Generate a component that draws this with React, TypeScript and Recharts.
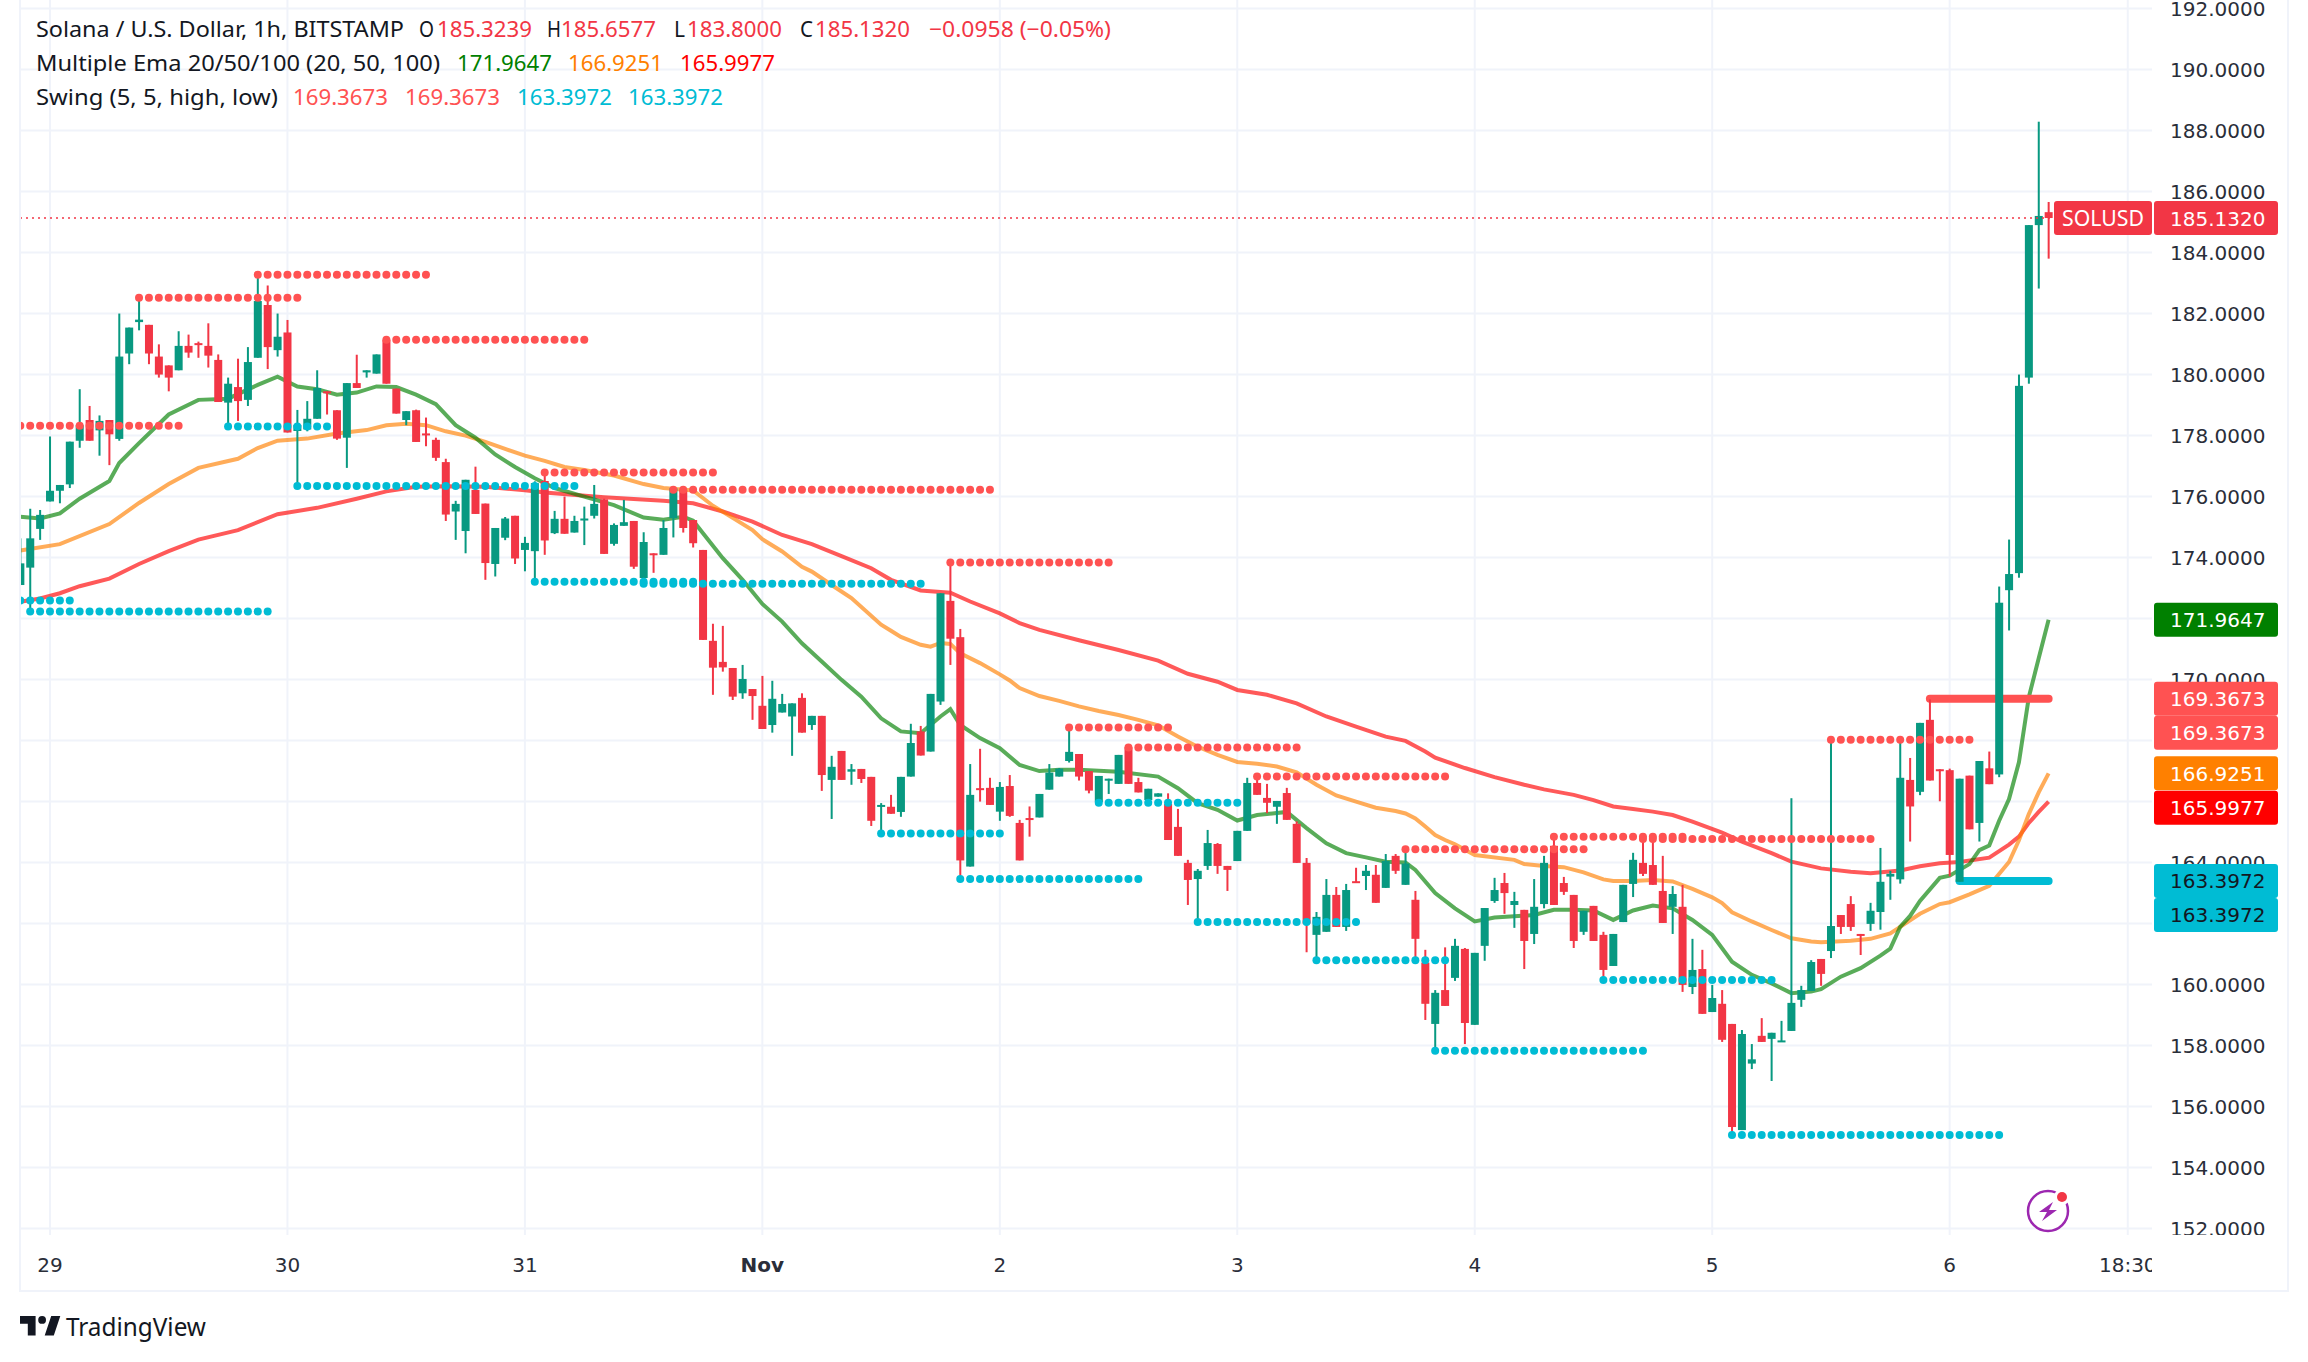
import { Bar, CartesianGrid, ComposedChart, Line, ReferenceLine, XAxis, YAxis } from "recharts";

const WIDTH = 2308;
const HEIGHT = 1362;
const PANE_BOTTOM = 1235;
const PANE_RIGHT = 2152;
const FIRST_BAR = -3;

// hourly bars, the first one is the half hidden candle on the left edge
const opens = [
  173.1, 173.67, 174.94, 175.84, 176.19, 176.4, 177.83, 178.51, 178.17, 178.51,
  177.89, 180.69, 181.72, 181.63, 180.59, 180.3, 180.14, 180.94, 181.03, 180.94,
  180.48, 179.08, 179.59, 179.17, 180.55, 182.28, 180.8, 181.38, 178.15, 178.2,
  178.55, 179.45, 178.83, 177.93, 179.72, 180.07, 180.03, 181.14, 179.54, 178.51,
  178.83, 178.07, 177.86, 177.13, 175.51, 174.87, 176.22, 175.77, 173.79, 174.65,
  175.37, 174.25, 174.21, 176.51, 174.8, 175.27, 174.82, 175.26, 175.37, 175.91,
  174.45, 175.04, 175.2, 173.33, 174.14, 174.09, 175.29, 176.22, 175.23, 174.25,
  171.27, 170.58, 170.38, 169.55, 169.69, 169.14, 168.51, 168.92, 168.79, 169.4,
  168.51, 168.81, 166.71, 167.66, 166.98, 167.07, 166.81, 165.83, 165.83, 165.66,
  166.82, 168.3, 167.64, 169.28, 172.58, 171.39, 163.87, 166.44, 166.45, 165.67,
  166.51, 165.3, 165.46, 165.48, 166.39, 166.82, 167.33, 167.56, 167.0, 165.98,
  166.72, 166.58, 167.78, 166.64, 166.05, 166.16, 165.92, 165.17, 163.99, 163.46,
  163.89, 164.61, 163.89, 164.05, 165.04, 166.61, 166.12, 165.83, 166.28, 165.27,
  163.99, 161.63, 161.73, 162.94, 161.89, 163.39, 163.56, 163.6, 163.17, 164.22,
  163.27, 162.78, 160.72, 158.71, 159.82, 160.22, 161.17, 158.68, 161.27, 162.74,
  163.33, 162.61, 162.45, 161.66, 162.64, 164.55, 163.33, 162.94, 161.73, 162.58,
  161.63, 160.61, 162.05, 163.3, 163.99, 163.92, 163.07, 162.55, 162.55, 159.92,
  160.51, 159.1, 159.37, 158.71, 155.23, 157.41, 158.32, 158.22, 158.13, 158.48,
  159.5, 159.79, 160.84, 161.1, 162.28, 162.64, 161.66, 161.99, 162.38, 163.54,
  163.45, 166.71, 166.32, 168.68, 167.06, 167.03, 163.37, 166.85, 165.3, 167.09,
  166.89, 172.93, 173.49, 179.9, 184.9, 185.3239,
];
const highs = [
  174.63, 175.6, 175.56, 177.97, 176.38, 177.8, 179.52, 178.97, 178.66, 178.51,
  182.0, 181.54, 182.51, 181.63, 180.99, 180.3, 181.42, 181.31, 181.08, 181.68,
  180.66, 179.9, 180.52, 180.9, 183.3, 182.92, 182.0, 181.79, 178.84, 179.13,
  180.14, 179.45, 178.83, 179.72, 180.65, 180.14, 180.66, 181.2, 179.54, 178.8,
  178.85, 178.59, 177.93, 177.24, 175.86, 176.55, 176.98, 175.77, 174.97, 175.33,
  175.37, 174.68, 176.5, 176.86, 175.53, 176.0, 175.37, 175.67, 176.38, 175.93,
  175.12, 175.89, 175.2, 174.83, 174.14, 175.23, 176.27, 176.22, 175.23, 174.25,
  171.83, 171.76, 170.38, 170.48, 169.69, 170.12, 169.96, 169.53, 169.22, 169.55,
  168.81, 168.81, 167.5, 167.66, 167.23, 167.07, 166.81, 165.95, 166.22, 166.81,
  168.55, 168.48, 169.53, 172.83, 173.81, 171.66, 167.23, 167.73, 166.78, 166.64,
  166.87, 165.4, 165.84, 166.25, 167.23, 167.1, 168.4, 167.56, 167.0, 166.84,
  166.75, 167.53, 167.78, 166.78, 166.42, 166.27, 166.27, 165.76, 164.09, 163.79,
  165.07, 164.64, 163.89, 165.04, 166.78, 166.84, 166.58, 166.02, 166.45, 165.35,
  164.15, 162.38, 163.46, 163.2, 163.3, 163.83, 163.92, 163.92, 164.28, 164.28,
  164.42, 163.07, 161.14, 159.82, 161.22, 161.5, 161.2, 161.04, 162.51, 163.5,
  163.66, 163.04, 162.45, 163.46, 164.22, 164.74, 163.53, 162.94, 162.42, 162.58,
  161.73, 161.66, 163.27, 164.32, 164.84, 164.84, 164.22, 163.23, 163.27, 161.5,
  161.14, 159.99, 159.82, 158.71, 158.51, 158.05, 158.9, 158.42, 158.81, 166.11,
  159.96, 160.8, 160.84, 168.03, 162.28, 162.9, 161.66, 162.68, 164.48, 163.73,
  167.93, 167.43, 168.58, 169.35, 167.06, 167.08, 166.75, 166.85, 167.33, 167.64,
  173.05, 174.59, 180.0, 184.9, 188.29, 185.6577,
];
const lows = [
  173.1, 172.2, 174.58, 175.84, 175.78, 176.28, 177.6, 177.83, 177.34, 177.03,
  177.83, 180.34, 181.45, 180.34, 179.9, 179.45, 180.14, 180.55, 180.55, 180.23,
  179.1, 178.28, 178.48, 178.97, 180.55, 180.18, 180.59, 178.1, 176.35, 178.14,
  178.55, 178.69, 177.86, 176.94, 179.56, 179.9, 180.03, 179.7, 178.72, 178.34,
  177.79, 177.65, 177.17, 175.2, 174.58, 174.14, 175.43, 173.27, 173.38, 174.57,
  173.79, 173.55, 173.27, 174.09, 174.77, 174.78, 174.82, 174.41, 175.28, 174.12,
  174.39, 175.04, 173.63, 173.16, 173.5, 174.09, 174.66, 174.82, 174.33, 171.3,
  169.5, 170.26, 169.33, 169.37, 168.68, 168.38, 168.26, 168.92, 167.5, 168.26,
  168.35, 166.35, 165.43, 166.71, 166.55, 166.61, 165.2, 164.94, 165.6, 165.5,
  166.82, 167.51, 167.64, 169.17, 170.48, 163.46, 163.87, 166.0, 165.89, 165.37,
  165.5, 164.07, 164.85, 165.48, 166.39, 166.82, 167.28, 166.69, 166.27, 165.98,
  166.25, 166.58, 166.58, 166.3, 166.05, 166.16, 164.74, 164.22, 162.61, 162.07,
  163.76, 163.63, 163.07, 164.05, 165.04, 166.22, 165.62, 165.27, 165.4, 163.99,
  161.06, 160.8, 161.73, 161.89, 161.76, 163.34, 163.1, 162.68, 163.17, 163.63,
  163.27, 160.81, 158.84, 157.86, 159.3, 160.12, 158.05, 158.68, 160.78, 162.68,
  162.32, 161.86, 160.51, 161.33, 162.5, 162.61, 162.94, 161.2, 161.63, 161.43,
  160.15, 160.61, 162.05, 162.87, 163.56, 163.27, 162.02, 161.66, 159.76, 159.69,
  159.04, 159.1, 158.12, 155.07, 155.23, 157.23, 158.12, 156.84, 158.13, 158.48,
  159.27, 159.79, 159.96, 160.87, 161.66, 161.76, 160.97, 161.76, 161.8, 162.78,
  163.31, 164.69, 166.21, 166.69, 166.01, 163.55, 163.37, 165.09, 164.69, 166.57,
  166.8, 171.61, 173.34, 179.7, 182.82, 183.8,
];
const closes = [
  173.81, 174.63, 175.4, 176.19, 176.38, 177.8, 178.34, 177.83, 178.48, 178.04,
  180.59, 181.54, 181.8, 180.69, 180.0, 179.9, 180.94, 180.72, 180.97, 180.62,
  179.1, 179.7, 179.13, 180.41, 182.41, 180.9, 181.24, 178.1, 178.35, 178.55,
  179.56, 179.4, 177.9, 179.72, 179.56, 180.14, 180.66, 179.7, 178.72, 178.8,
  177.79, 178.01, 177.27, 175.41, 175.76, 176.55, 175.43, 173.82, 174.97, 175.28,
  173.97, 174.48, 176.44, 174.56, 175.27, 174.78, 175.2, 175.28, 175.76, 174.12,
  175.07, 175.16, 173.7, 174.51, 174.1, 174.97, 176.27, 174.97, 174.47, 171.3,
  170.39, 170.4, 169.44, 170.02, 169.46, 168.38, 169.37, 169.2, 169.22, 168.26,
  168.81, 166.87, 167.14, 166.71, 167.06, 166.74, 165.37, 165.89, 165.6, 166.81,
  167.92, 167.51, 169.53, 172.83, 171.34, 164.07, 166.22, 166.39, 165.89, 166.48,
  165.53, 164.07, 165.42, 166.25, 166.95, 167.08, 167.63, 166.82, 166.36, 166.84,
  166.75, 167.53, 166.58, 166.3, 166.42, 166.27, 164.74, 164.22, 163.43, 163.73,
  164.64, 163.89, 163.76, 165.04, 166.61, 166.22, 165.96, 166.02, 165.4, 163.99,
  162.0, 162.22, 162.94, 161.89, 163.1, 163.34, 163.73, 162.68, 164.05, 163.73,
  163.97, 161.5, 159.37, 159.73, 159.3, 161.27, 158.74, 161.04, 162.51, 163.1,
  163.0, 162.74, 161.43, 162.55, 163.99, 162.61, 163.04, 161.43, 162.42, 161.43,
  160.48, 161.66, 163.27, 164.09, 163.63, 163.27, 162.02, 162.97, 159.99, 160.48,
  159.04, 159.56, 158.19, 155.33, 158.38, 157.55, 158.12, 158.42, 158.17, 159.4,
  159.82, 160.74, 160.35, 161.92, 161.89, 161.89, 161.6, 162.42, 163.37, 163.63,
  166.78, 165.84, 168.58, 166.69, 167.0, 164.25, 166.75, 165.09, 167.33, 166.57,
  172.52, 173.46, 179.63, 184.9, 185.2, 185.132,
];

// [bar, price]
const ema20: [number, number][] = [
  [-3, 175.34], [-1, 175.28], [1, 175.45], [3, 175.93], [6, 176.51], [7, 177.1], [9, 177.75], [12, 178.69],
  [15, 179.17], [18, 179.21], [21, 179.66], [23, 179.93], [25, 179.61], [27, 179.52], [29, 179.34], [31, 179.41],
  [33, 179.61], [35, 179.59], [37, 179.34], [39, 179.03], [41, 178.34], [43, 177.93], [45, 177.38], [47, 176.97],
  [49, 176.6], [51, 176.28], [54, 176.0], [57, 175.72], [60, 175.31], [62, 175.24], [64, 175.34], [65, 175.21],
  [66, 174.8], [68, 173.98], [70, 173.27], [72, 172.48], [74, 171.9], [76, 171.19], [78, 170.59], [80, 169.99],
  [82, 169.44], [84, 168.73], [86, 168.3], [88, 168.24], [90, 168.79], [91, 169.03], [92, 168.51], [94, 168.08],
  [96, 167.75], [98, 167.2], [100, 167.0], [102, 167.04], [104, 167.04], [108, 166.98], [112, 166.82], [114, 166.44],
  [116, 165.95], [118, 165.73], [120, 165.38], [122, 165.56], [125, 165.66], [127, 165.13], [129, 164.63], [131, 164.31],
  [133, 164.17], [135, 164.03], [137, 164.0], [138, 163.76], [140, 163.0], [142, 162.5], [144, 162.07], [146, 162.2],
  [150, 162.28], [152, 162.45], [154, 162.45], [156, 162.43], [158, 162.12], [160, 162.43], [162, 162.59], [164, 162.5],
  [166, 162.12], [168, 161.63], [170, 160.75], [172, 160.32], [174, 160.04], [176, 159.72], [178, 159.77], [179, 159.85],
  [181, 160.26], [183, 160.54], [185, 160.95], [186, 161.18], [187, 161.89], [188, 162.25], [189, 162.74], [191, 163.5],
  [192, 163.57], [194, 163.95], [195, 164.41], [196, 164.56], [197, 165.37], [198, 166.08], [199, 167.29], [200, 169.42],
  [201, 170.7], [202, 171.9647],
];
const ema50: [number, number][] = [
  [-3, 174.23], [1, 174.44], [6, 175.1], [9, 175.79], [12, 176.41], [15, 176.94], [19, 177.24], [21, 177.59],
  [23, 177.83], [26, 177.9], [29, 178.07], [32, 178.18], [34, 178.34], [36, 178.39], [38, 178.34], [40, 178.14],
  [42, 178.0], [44, 177.79], [46, 177.56], [48, 177.34], [50, 177.17], [52, 176.97], [54, 176.87], [57, 176.69],
  [60, 176.41], [62, 176.28], [65, 176.2], [67, 175.7], [69, 175.3], [71, 174.9], [72, 174.6], [74, 174.2],
  [76, 173.7], [77, 173.54], [79, 173.1], [81, 172.67], [84, 171.8], [85, 171.6], [86, 171.4], [88, 171.14],
  [89, 171.08], [90, 171.2], [91, 171.17], [92, 170.86], [94, 170.54], [96, 170.17], [97, 169.97], [98, 169.72],
  [100, 169.46], [102, 169.3], [104, 169.12], [106, 168.97], [108, 168.84], [110, 168.68], [112, 168.5], [114, 168.13],
  [116, 167.8], [118, 167.53], [120, 167.3], [122, 167.24], [124, 167.15], [126, 166.96], [128, 166.55], [130, 166.2],
  [132, 166.0], [134, 165.8], [136, 165.69], [137, 165.61], [138, 165.45], [139, 165.18], [140, 164.9], [141, 164.74],
  [142, 164.6], [144, 164.25], [148, 164.09], [149, 163.95], [151, 163.89], [153, 163.85], [155, 163.68], [157, 163.45],
  [158, 163.4], [160, 163.4], [162, 163.43], [164, 163.38], [166, 163.14], [168, 162.86], [169, 162.67], [170, 162.37],
  [172, 162.07], [174, 161.79], [176, 161.52], [178, 161.41], [179, 161.39], [182, 161.44], [184, 161.5], [186, 161.68],
  [187, 161.89], [189, 162.32], [191, 162.64], [192, 162.7], [194, 162.96], [196, 163.24], [198, 164.02], [199, 164.73],
  [200, 165.59], [201, 166.3], [202, 166.9251],
];
const ema100: [number, number][] = [
  [-3, 172.55], [-1, 172.66], [1, 172.83], [3, 173.06], [6, 173.31], [9, 173.79], [12, 174.21], [15, 174.59],
  [19, 174.9], [23, 175.42], [27, 175.63], [31, 175.93], [34, 176.17], [37, 176.32], [40, 176.34], [44, 176.32],
  [48, 176.21], [50, 176.13], [56, 175.98], [62, 175.86], [65, 175.78], [68, 175.51], [71, 175.18], [74, 174.74],
  [77, 174.44], [80, 174.05], [83, 173.65], [85, 173.27], [88, 172.92], [91, 172.85], [93, 172.56], [96, 172.17],
  [98, 171.85], [100, 171.63], [104, 171.29], [108, 170.97], [112, 170.62], [115, 170.19], [118, 169.93], [120, 169.66],
  [123, 169.5], [126, 169.22], [129, 168.79], [132, 168.46], [135, 168.13], [137, 167.99], [139, 167.64], [140, 167.44],
  [143, 167.1], [146, 166.8], [149, 166.55], [151, 166.4], [154, 166.22], [156, 166.05], [158, 165.84], [160, 165.76],
  [162, 165.67], [164, 165.56], [166, 165.34], [169, 164.98], [171, 164.69], [174, 164.31], [176, 164.03], [179, 163.81],
  [182, 163.7], [184, 163.65], [187, 163.74], [189, 163.88], [191, 163.98], [193, 164.02], [196, 164.16], [198, 164.59],
  [199, 164.85], [200, 165.3], [201, 165.66], [202, 165.9977],
];

// [from bar, to bar, level] of the swing dots
const swingHighs: [number, number, number][] = [
  [-3, 13, 178.32], [9, 25, 182.52], [21, 38, 183.27], [34, 54, 181.14], [50, 67, 176.79], [63, 95, 176.22],
  [91, 107, 173.84], [103, 113, 168.43], [109, 126, 167.77], [122, 141, 166.82], [137, 155, 164.44],
  [152, 165, 164.85], [161, 184, 164.77], [180, 194, 168.03],
];
const swingLows: [number, number, number][] = [
  [-3, 2, 172.59], [-2, 22, 172.23], [18, 28, 178.3], [25, 53, 176.35], [49, 65, 173.21], [60, 88, 173.14],
  [84, 96, 164.95], [92, 110, 163.46], [106, 120, 165.96], [116, 132, 162.05], [128, 141, 160.8],
  [140, 161, 157.83], [157, 174, 160.15], [170, 197, 155.07],
];
const lastSwingHigh: [number, number, number] = [190, 202, 169.3673];
const lastSwingLow: [number, number, number] = [193, 202, 163.3972];

const priceTicks = [152, 154, 156, 158, 160, 162, 164, 166, 168, 170, 172, 174, 176, 178, 180, 182, 184, 186, 188, 190, 192];
// these three sit completely behind the price tags
const coveredPrices = [166, 168, 172];
const timeTicks = [0, 24, 48, 72, 96, 120, 144, 168, 192, 210];
const timeLabels = ["29", "30", "31", "Nov", "2", "3", "4", "5", "6", "18:30"];

const legendRows = [
  { x: 36, y: 36.5, w: 368, t: "Solana / U.S. Dollar, 1h, BITSTAMP", c: "#131722" },
  { x: 419, y: 36.5, w: 15, t: "O", c: "#131722" },
  { x: 437, y: 36.5, w: 95, t: "185.3239", c: "#f23645" },
  { x: 547, y: 36.5, w: 14, t: "H", c: "#131722" },
  { x: 561, y: 36.5, w: 95, t: "185.6577", c: "#f23645" },
  { x: 674, y: 36.5, w: 11, t: "L", c: "#131722" },
  { x: 687, y: 36.5, w: 95, t: "183.8000", c: "#f23645" },
  { x: 800, y: 36.5, w: 13, t: "C", c: "#131722" },
  { x: 815, y: 36.5, w: 95, t: "185.1320", c: "#f23645" },
  { x: 929, y: 36.5, w: 182, t: "−0.0958 (−0.05%)", c: "#f23645" },
  { x: 36, y: 70.5, w: 404, t: "Multiple Ema 20/50/100 (20, 50, 100)", c: "#131722" },
  { x: 457, y: 70.5, w: 95, t: "171.9647", c: "#008000" },
  { x: 568, y: 70.5, w: 95, t: "166.9251", c: "#ff8000" },
  { x: 680, y: 70.5, w: 95, t: "165.9977", c: "#ff0000" },
  { x: 36, y: 104.5, w: 242, t: "Swing (5, 5, high, low)", c: "#131722" },
  { x: 293, y: 104.5, w: 95, t: "169.3673", c: "#ff5252" },
  { x: 405, y: 104.5, w: 95, t: "169.3673", c: "#ff5252" },
  { x: 517, y: 104.5, w: 95, t: "163.3972", c: "#00bcd4" },
  { x: 628, y: 104.5, w: 95, t: "163.3972", c: "#00bcd4" },
];

const priceTags = [
  { v: 171.9647, dy: 0, bg: "#008000", fg: "#ffffff" },
  { v: 169.3673, dy: 34, bg: "#ff5252", fg: "#ffffff" },
  { v: 169.3673, dy: 0, bg: "#ff5252", fg: "#ffffff" },
  { v: 166.9251, dy: 0, bg: "#ff8000", fg: "#ffffff" },
  { v: 165.9977, dy: 6, bg: "#ff0000", fg: "#ffffff" },
  { v: 163.3972, dy: 34, bg: "#00bcd4", fg: "#131722" },
  { v: 163.3972, dy: 0, bg: "#00bcd4", fg: "#131722" },
  { v: 185.132, dy: 0, bg: "#f23645", fg: "#ffffff" },
];

const AXIS_FONT = "'DejaVu Sans', sans-serif";
const TEXT_FONT = "'Noto Sans', sans-serif";
const X_DOMAIN = [-3.03, 212.45];
const Y_DOMAIN = [151.79, 192.28];

const byBar = (pairs: [number, number][]) => new Map(pairs.map(([bar, price]) => [bar, price]));
const ema20ByBar = byBar(ema20);
const ema50ByBar = byBar(ema50);
const ema100ByBar = byBar(ema100);

const rows = opens.map((open, i) => {
  const t = FIRST_BAR + i;
  return {
    t,
    open,
    high: highs[i],
    low: lows[i],
    close: closes[i],
    range: [lows[i], highs[i]],
    ema20: ema20ByBar.get(t) ?? null,
    ema50: ema50ByBar.get(t) ?? null,
    ema100: ema100ByBar.get(t) ?? null,
  };
});

function swingPoints([from, to, level]: [number, number, number]) {
  const points = [];
  for (let t = from; t <= to; t++) points.push({ t, level });
  return points;
}

function Candle(props: any) {
  const { x, y, width, height, payload } = props;
  const { open, high, low, close } = payload;
  const pxPerUnit = height / (high - low);
  const up = close >= open;
  const color = up ? "#089981" : "#f23645";
  const top = y + (high - Math.max(open, close)) * pxPerUnit;
  const bodyHeight = Math.max(Math.abs(open - close) * pxPerUnit, 2);
  const mid = x + width / 2;
  return (
    <g>
      <rect x={mid - 1} y={y} width={2} height={height} fill={color} />
      <rect x={x} y={top} width={width} height={bodyHeight} fill={color} />
    </g>
  );
}

function PriceTick({ y, payload }: any) {
  if (coveredPrices.includes(payload.value)) return null;
  return (
    <g>
      <clipPath id={`p${payload.value}`}>
        <rect x={2152} y={0} width={150} height={PANE_BOTTOM} />
      </clipPath>
      <text x={2170} y={y + 7.5} fontSize={20} fontFamily={AXIS_FONT} fill="#2a2e39" clipPath={`url(#p${payload.value})`}>
        {payload.value.toFixed(4)}
      </text>
    </g>
  );
}

function TimeTick({ x, payload }: any) {
  const i = timeTicks.indexOf(payload.value);
  const label = timeLabels[i];
  return (
    <g>
      <clipPath id={`t${i}`}>
        <rect x={0} y={PANE_BOTTOM} width={PANE_RIGHT} height={60} />
      </clipPath>
      <text
        x={x}
        y={1272}
        textAnchor="middle"
        fontSize={20}
        fontFamily={AXIS_FONT}
        fontWeight={label === "Nov" ? 700 : 400}
        fill="#2a2e39"
        clipPath={`url(#t${i})`}
      >
        {label}
      </text>
    </g>
  );
}

function PriceTag({ viewBox, tag }: any) {
  const y = viewBox.y + tag.dy;
  const isLast = tag.v === 185.132;
  return (
    <g>
      {isLast && <rect x={2054} y={y - 17} width={98} height={34} rx={3} fill={tag.bg} />}
      {isLast && (
        <text x={2062} y={y + 8} fontSize={21} fontFamily={TEXT_FONT} fill={tag.fg} textLength={82} lengthAdjust="spacingAndGlyphs">
          SOLUSD
        </text>
      )}
      <rect x={2154} y={y - 17} width={124} height={34} rx={3} fill={tag.bg} />
      <text x={2170} y={y + 7.5} fontSize={20} fontFamily={AXIS_FONT} fill={tag.fg}>
        {tag.v.toFixed(4)}
      </text>
    </g>
  );
}

export default function App() {
  return (
    <div style={{ position: "absolute", left: 0, top: 0, width: WIDTH, height: HEIGHT, background: "#ffffff", overflow: "hidden" }}>
      <ComposedChart
        width={WIDTH}
        height={HEIGHT}
        data={rows}
        margin={{ top: 0, right: 30, bottom: 71, left: 20 }}
      >
        <CartesianGrid stroke="#f0f3fa" strokeWidth={2} syncWithTicks />
        <XAxis
          dataKey="t"
          type="number"
          domain={X_DOMAIN}
          allowDataOverflow
          ticks={timeTicks}
          interval={0}
          height={56}
          axisLine={false}
          tickLine={false}
          tick={<TimeTick />}
        />
        <YAxis
          orientation="right"
          type="number"
          domain={Y_DOMAIN}
          allowDataOverflow
          ticks={priceTicks}
          interval={0}
          width={126}
          axisLine={false}
          tickLine={false}
          tick={<PriceTick />}
        />
        <Line dataKey="ema100" stroke="#ff0000" strokeOpacity={0.65} strokeWidth={4} dot={false} connectNulls isAnimationActive={false} zIndex={100} />
        <Line dataKey="ema50" stroke="#ff8000" strokeOpacity={0.65} strokeWidth={4} dot={false} connectNulls isAnimationActive={false} zIndex={100} />
        <Line dataKey="ema20" stroke="#008000" strokeOpacity={0.65} strokeWidth={4} dot={false} connectNulls isAnimationActive={false} zIndex={100} />
        {swingHighs.map((seg, i) => (
          <Line
            key={`h${i}`}
            data={swingPoints(seg)}
            dataKey="level"
            stroke="none"
            dot={{ r: 4, fill: "#ff5252", stroke: "none" }}
            isAnimationActive={false}
            zIndex={150}
          />
        ))}
        {swingLows.map((seg, i) => (
          <Line
            key={`l${i}`}
            data={swingPoints(seg)}
            dataKey="level"
            stroke="none"
            dot={{ r: 4, fill: "#00bcd4", stroke: "none" }}
            isAnimationActive={false}
            zIndex={150}
          />
        ))}
        <Line data={swingPoints(lastSwingHigh)} dataKey="level" stroke="#ff5252" strokeWidth={8} strokeLinecap="round" dot={false} isAnimationActive={false} zIndex={150} />
        <Line data={swingPoints(lastSwingLow)} dataKey="level" stroke="#00bcd4" strokeWidth={8} strokeLinecap="round" dot={false} isAnimationActive={false} zIndex={150} />
        <Bar dataKey="range" barSize={8} shape={<Candle />} isAnimationActive={false} zIndex={300} />
        <ReferenceLine
          segment={[{ x: -3.03, y: 185.132 }, { x: 202.5, y: 185.132 }]}
          stroke="#f23645"
          strokeWidth={1.5}
          strokeDasharray="2 4"
        />
      </ComposedChart>

      {/* second layer so the price tags cover the axis labels */}
      <div style={{ position: "absolute", left: 0, top: 0 }}>
        <ComposedChart width={WIDTH} height={HEIGHT} data={rows} margin={{ top: 0, right: 156, bottom: 127, left: 20 }}>
          <XAxis dataKey="t" type="number" domain={X_DOMAIN} allowDataOverflow hide />
          <YAxis type="number" domain={Y_DOMAIN} allowDataOverflow hide />
          {priceTags.map((tag, i) => (
            <ReferenceLine key={i} y={tag.v} stroke="transparent" label={<PriceTag tag={tag} />} />
          ))}
        </ComposedChart>
      </div>

      <svg width={WIDTH} height={HEIGHT} style={{ position: "absolute", left: 0, top: 0, pointerEvents: "none" }}>
        <path d="M20 0V1291H2288V0" fill="none" stroke="#f0f3fa" strokeWidth={2} />
        {legendRows.map((r, i) => (
          <text key={i} x={r.x} y={r.y} fontSize={22} fontFamily={TEXT_FONT} fill={r.c} textLength={r.w} lengthAdjust="spacingAndGlyphs">
            {r.t}
          </text>
        ))}
        <path
          transform="translate(17.4 1308.2) scale(1.3)"
          d="M14 6H2v6h6v9h6V6zm14 15h-7l5-15h7l-5 15zm-9-9a3 3 0 1 0 0-6 3 3 0 0 0 0 6z"
          fill="#131722"
        />
        <text x={66} y={1336} fontSize={26} fontFamily={TEXT_FONT} fill="#131722" textLength={140} lengthAdjust="spacingAndGlyphs">
          TradingView
        </text>
        <circle cx={2048} cy={1211} r={20} fill="#ffffff" stroke="#9c27b0" strokeWidth={2.5} />
        <path d="M2053 1202L2039 1212H2047L2042 1221L2057 1210H2049Z" fill="#9c27b0" />
        <circle cx={2062} cy={1197} r={8} fill="#ffffff" />
        <circle cx={2062} cy={1197} r={5} fill="#f23645" />
      </svg>
    </div>
  );
}
